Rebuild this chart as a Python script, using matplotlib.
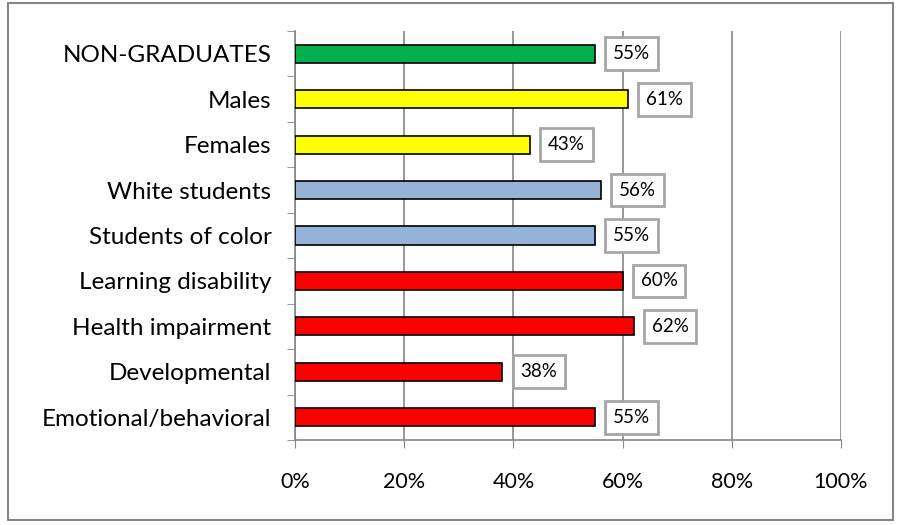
import matplotlib
matplotlib.use('Agg')
import matplotlib.pyplot as plt
import numpy as np

## DATA
categories = ['NON-GRADUATES', 'Males', 'Females', 'White students',
              'Students of color', 'Learning disability', 'Health impairment',
              'Developmental', 'Emotional/behavioral']
values = [55, 61, 43, 56, 55, 60, 62, 38, 55]
bar_colors = ['#00b050', '#ffff00', '#ffff00', '#95b3d7', '#95b3d7',
              '#ff0000', '#ff0000', '#ff0000', '#ff0000']
xticks = [0, 20, 40, 60, 80, 100]

plt.rcParams['font.family'] = ['Lato', 'DejaVu Sans']

fig = plt.figure(figsize=(9.01, 5.25), dpi=100)
ax = fig.add_axes([295 / 901, 1 - 440 / 525, (841 - 295) / 901, (440 - 31) / 525])

## BARS (top to bottom)
y = np.arange(len(categories))[::-1]
ax.barh(y, values, height=0.4, color=bar_colors, edgecolor='black',
        linewidth=1.2, zorder=3)

## VALUE LABELS
for yi, v in zip(y, values):
    ax.text(v + 3.3, yi, f'{v}%', va='center', ha='left', fontsize=13.5,
            zorder=4,
            bbox=dict(boxstyle='square,pad=0.42', facecolor='white',
                      edgecolor='#a6a6a6', linewidth=2))

## AXES
ax.set_xlim(0, 100)
ax.set_ylim(-0.5, len(categories) - 0.5)
ax.set_xticks(xticks)
ax.set_xticklabels([f'{t}%' for t in xticks], fontsize=15.5)
ax.xaxis.grid(True, color='#868686', linewidth=1.2, zorder=0)
ax.tick_params(axis='x', length=6, color='#868686', pad=17)

ax.set_yticks(y)
ax.set_yticklabels(categories, fontsize=17.5)
ax.set_yticks(np.arange(-0.5, len(categories)), minor=True)
ax.tick_params(axis='y', which='major', length=0, pad=17)
ax.tick_params(axis='y', which='minor', length=6, color='#868686')

for s in ['top', 'right']:
    ax.spines[s].set_visible(False)
for s in ['left', 'bottom']:
    ax.spines[s].set_color('#868686')
    ax.spines[s].set_linewidth(1.2)

## OUTER BORDER
fig.patches.append(plt.Rectangle((8 / 901, 1 - 520 / 525), 885 / 901, 517 / 525,
                                 transform=fig.transFigure, fill=False,
                                 edgecolor='#868686', linewidth=1.5))

plt.savefig('out.png', dpi=100)
